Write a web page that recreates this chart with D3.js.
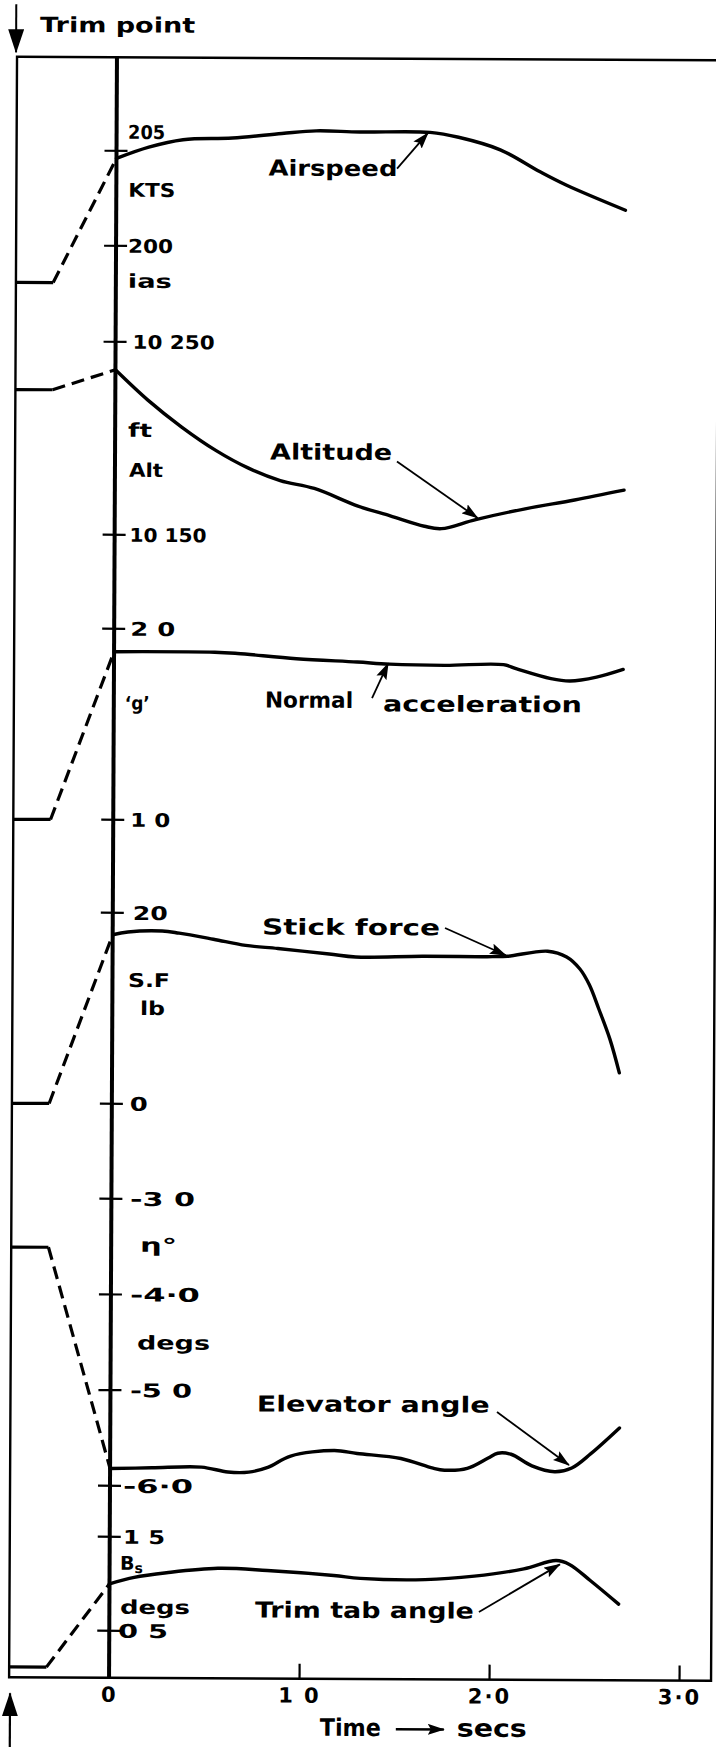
<!DOCTYPE html>
<html>
<head>
<meta charset="utf-8">
<script src="https://cdn.jsdelivr.net/npm/d3@7"></script>
<style>
  body { margin: 0; background: #fff; }
  text { font-family: "DejaVu Sans", sans-serif; fill: #000; font-weight: bold; }
</style>
</head>
<body>
<svg id="chart" width="716" height="1747"></svg>
<script>
// time axis
var secs = [0, 1, 2, 3];
var secsText = ["0", "1 0", "2·0", "3·0"];
var trimTime = -0.526, rampStart = -0.33;

// traces, [secs, value]
var airspeed = [[0,204.6],[0.17,205.2],[0.35,205.6],[0.61,205.7],[0.87,205.95],[1.05,206.1],[1.28,206.05],
  [1.65,206.05],[1.8,205.8],[2.02,205.15],[2.23,204.0],[2.37,203.3],[2.68,202.0]];
var altitude = [[0,10235.5],[0.17,10220],[0.35,10206],[0.53,10194],[0.7,10185],[0.87,10178.5],[1.05,10174.5],
  [1.28,10165.5],[1.45,10160.5],[1.63,10155.2],[1.72,10154],[1.9,10158.8],[2.16,10164.5],[2.42,10169.2],[2.68,10174.4]];
var accel = [[0,1.88],[0.53,1.88],[0.65,1.874],[0.96,1.848],[1.28,1.832],[1.45,1.822],[1.74,1.817],[2.05,1.822],
  [2.12,1.80],[2.3,1.75],[2.4,1.738],[2.54,1.759],[2.68,1.80]];
var stick = [[0,17.7],[0.08,18.0],[0.26,18.12],[0.35,17.9],[0.53,17.28],[0.7,16.65],[0.87,16.34],[1.14,15.8],
  [1.28,15.5],[1.63,15.6],[2.0,15.6],[2.08,15.65],[2.29,16.2],[2.39,15.6],[2.46,14.35],[2.51,12.7],[2.56,10.2],[2.62,7.0],[2.67,3.5]];
var elevator = [[0,-5.82],[0.22,-5.81],[0.48,-5.8],[0.62,-5.85],[0.73,-5.85],[0.83,-5.8],[0.95,-5.68],[1.18,-5.62],
  [1.3,-5.65],[1.53,-5.7],[1.7,-5.8],[1.76,-5.82],[1.88,-5.8],[1.99,-5.69],[2.04,-5.64],[2.11,-5.65],[2.22,-5.77],
  [2.34,-5.83],[2.43,-5.79],[2.53,-5.64],[2.68,-5.37]];
var tab = [[0,1.0],[0.13,1.07],[0.3,1.12],[0.57,1.17],[0.83,1.15],[1.18,1.1],[1.32,1.07],[1.66,1.06],[1.92,1.1],
  [2.18,1.18],[2.35,1.27],[2.42,1.23],[2.53,1.06],[2.68,0.81]];

// steady value before the trim change
var preTrim = {airspeed: 198.05, altitude: 10225, accel: 1.0, stick: 0, elevator: -3.51, tab: 0.11};

var airspeedTicks = [205, 200], altitudeTicks = [10250, 10150], accelTicks = [2, 1],
    stickTicks = [20, 0], elevatorTicks = [-3, -4, -5, -6], tabTicks = [1.5, 0.5];

var airspeedText = [["205",205],["KTS",202.95],["200",200],["ias",198.16]];
var altitudeText = [["10 250",10250],["ft",10204.4],["Alt",10183.7],["10 150",10150]];
var accelText = [["\u2018g\u2019",1.613],["2 0",2],["1 0",1]];
var stickText = [["20",20],["S.F",12.98],["lb",10.05],["0",0]];
var elevatorText = [["-3 0",-3],["\u03b7\u00b0",-3.48],["-4·0",-4],["degs",-4.5],["-5 0",-5],["-6·0",-6]];
var tabText = [["1 5",1.5],["Bs",1.223],["degs",0.755],["0 5",0.5]];

// annotations: text start, arrow from, arrow to  (secs, value)
var notes = [
  {p: "airspeed", text: "Airspeed", at: [0.80,204.13], from: [1.477,204.13], to: [1.639,206.02]},
  {p: "altitude", text: "Altitude", at: [0.816,10193.3], from: [1.484,10188.7], to: [1.91,10159.6]},
  {p: "accel", text: "Normal", at: [0.796,1.631], from: [1.359,1.644], to: [1.443,1.826]},
  {p: "accel", text: "acceleration", at: [1.417,1.613]},
  {p: "stick", text: "Stick force", at: [0.786,18.59], from: [1.749,18.58], to: [2.07,15.75]},
  {p: "elevator", text: "Elevator angle", at: [0.77,-5.137], from: [2.035,-5.21], to: [2.415,-5.76]},
  {p: "tab", text: "Trim tab angle", at: [0.766,0.729], from: [1.945,0.719], to: [2.37,1.23]}
];

// ---- layout ----
var frameTop = 58.5, frameBottom = 1679, frameRight = 715;
var x = d3.scaleLinear().domain([0, 3]).range([113, 683]);
var axisX = x(0), frameLeft = x(trimTime);

var panels = {
  airspeed: {data: airspeed, ticks: airspeedTicks, text: airspeedText, px: [152, 247],
    lay: [[11.5,37,-19],[12,47,0],[12,45,0],[12,44,0]]},
  altitude: {data: altitude, ticks: altitudeTicks, text: altitudeText, px: [343, 536],
    lay: [[17,82,0],[13,24,0],[14,34,0],[15,77,0]]},
  accel: {data: accel, ticks: accelTicks, text: accelText, px: [630, 821],
    lay: [[11,25,0],[16,45,0],[17,40,0]]},
  stick: {data: stick, ticks: stickTicks, text: stickText, px: [914, 1105],
    lay: [[20,35,0],[15.5,42,0],[27.7,25,0],[18,18,0]]},
  elevator: {data: elevator, ticks: elevatorTicks, text: elevatorText, px: [1200, 1487],
    lay: [[18.6,65,0],[28.8,37,0],[19,70,0],[26.3,73,0],[19.5,62,0],[13,70,0]]},
  tab: {data: tab, ticks: tabTicks, text: tabText, px: [1538, 1632],
    lay: [[13.3,42,0],[10.4,0,0],[10.6,70,0],[8.7,50,0]]}
};
var noteWidth = {"Airspeed":129, "Altitude":122, "Normal":88, "acceleration":199,
  "Stick force":178, "Elevator angle":233, "Trim tab angle":219};

var svg = d3.select("#chart");
var defs = svg.append("defs");
defs.append("marker").attr("id", "head")
  .attr("markerUnits", "userSpaceOnUse")
  .attr("markerWidth", 17).attr("markerHeight", 11)
  .attr("refX", 16).attr("refY", 5.5).attr("orient", "auto")
  .append("path").attr("d", "M0,0 L17,5.5 L0,11 L3,5.5 z").attr("fill", "#000");
defs.append("marker").attr("id", "bighead")
  .attr("markerUnits", "userSpaceOnUse")
  .attr("markerWidth", 24).attr("markerHeight", 16)
  .attr("refX", 23).attr("refY", 8).attr("orient", "auto")
  .append("path").attr("d", "M0,0 L24,8 L0,16 z").attr("fill", "#000");

// the record is scanned slightly askew
var g = svg.append("g").attr("transform", "rotate(0.28,363,870)");

// frame
g.append("rect")
  .attr("x", frameLeft).attr("y", frameTop)
  .attr("width", frameRight - frameLeft).attr("height", frameBottom - frameTop)
  .attr("fill", "none").attr("stroke", "#000").attr("stroke-width", 2.4);

// time axis
var xAxis = d3.axisBottom(x).tickValues(secs).tickSize(-15).tickPadding(9)
  .tickFormat(function (d, i) { return secsText[i]; });
var xg = g.append("g").attr("transform", "translate(0," + frameBottom + ")").call(xAxis);
xg.select(".domain").remove();
xg.selectAll(".tick line").attr("stroke", "#000").attr("stroke-width", 2.2);
xg.selectAll(".tick text").attr("font-size", 21).attr("font-family", "DejaVu Sans")
  .attr("font-weight", "bold").attr("letter-spacing", 2).attr("fill", "#000");

// zero line
g.append("line").attr("x1", axisX).attr("x2", axisX).attr("y1", frameTop).attr("y2", frameBottom)
  .attr("stroke", "#000").attr("stroke-width", 4);

Object.keys(panels).forEach(function (k) {
  var p = panels[k];
  var t = p.ticks;
  var y = d3.scaleLinear().domain([t[0], t[t.length - 1]]).range(p.px);
  p.y = y;

  g.selectAll(null).data(t).enter().append("line")
    .attr("x1", axisX - 12).attr("x2", axisX + 11)
    .attr("y1", function (d) { return y(d); }).attr("y2", function (d) { return y(d); })
    .attr("stroke", "#000").attr("stroke-width", 2.2);

  p.text.forEach(function (d, i) {
    var l = p.lay[i];
    var tx = g.append("text")
      .attr("x", axisX + l[0]).attr("y", y(d[1]) + l[2])
      .attr("dominant-baseline", "central")
      .attr("font-size", 19);
    if (d[0] === "Bs") {
      tx.append("tspan").text("B");
      tx.append("tspan").attr("font-size", 14).attr("dy", 5).text("s");
    } else {
      tx.text(d[0]);
    }
    if (l[1]) tx.attr("textLength", l[1]).attr("lengthAdjust", "spacingAndGlyphs");
  });

  var line = d3.line()
    .x(function (d) { return x(d[0]); })
    .y(function (d) { return y(d[1]); });

  g.append("path").datum(p.data)
    .attr("d", line.curve(d3.curveCatmullRom.alpha(0.5)))
    .attr("fill", "none").attr("stroke", "#000").attr("stroke-width", 3.4)
    .attr("stroke-linejoin", "round").attr("stroke-linecap", "round");

  var v0 = preTrim[k];
  g.append("path").datum([[trimTime, v0], [rampStart, v0]])
    .attr("d", line.curve(d3.curveLinear))
    .attr("fill", "none").attr("stroke", "#000").attr("stroke-width", 3.2);
  g.append("path").datum([[rampStart, v0], [0, p.data[0][1]]])
    .attr("d", line.curve(d3.curveLinear))
    .attr("fill", "none").attr("stroke", "#000").attr("stroke-width", 3.2)
    .attr("stroke-dasharray", "13,7");
});

// annotations
notes.forEach(function (n) {
  var y = panels[n.p].y;
  g.append("text")
    .attr("x", x(n.at[0])).attr("y", y(n.at[1]))
    .attr("dominant-baseline", "central")
    .attr("font-size", 22)
    .attr("textLength", noteWidth[n.text]).attr("lengthAdjust", "spacingAndGlyphs")
    .text(n.text);
  if (n.from) {
    g.append("line")
      .attr("x1", x(n.from[0])).attr("y1", y(n.from[1]))
      .attr("x2", x(n.to[0])).attr("y2", y(n.to[1]))
      .attr("stroke", "#000").attr("stroke-width", 1.8)
      .attr("marker-end", "url(#head)");
  }
});

// trim point markers
g.append("line").attr("x1", frameLeft - 1).attr("x2", frameLeft - 1).attr("y1", 6).attr("y2", 54)
  .attr("stroke", "#000").attr("stroke-width", 2).attr("marker-end", "url(#bighead)");
g.append("text").attr("x", 36).attr("y", 26.6).attr("dominant-baseline", "central")
  .attr("font-size", 21).attr("textLength", 155).attr("lengthAdjust", "spacingAndGlyphs")
  .text("Trim point");
g.append("line").attr("x1", frameLeft + 1).attr("x2", frameLeft + 1).attr("y1", 1760).attr("y2", 1695)
  .attr("stroke", "#000").attr("stroke-width", 2.2).attr("marker-end", "url(#bighead)");

// time caption
g.append("text").attr("x", 324).attr("y", 1728).attr("dominant-baseline", "central")
  .attr("font-size", 24).attr("textLength", 61).attr("lengthAdjust", "spacingAndGlyphs")
  .text("Time");
g.append("line").attr("x1", 400).attr("x2", 448).attr("y1", 1729).attr("y2", 1729)
  .attr("stroke", "#000").attr("stroke-width", 2.5).attr("marker-end", "url(#head)");
g.append("text").attr("x", 461).attr("y", 1728).attr("dominant-baseline", "central")
  .attr("font-size", 24).attr("textLength", 70).attr("lengthAdjust", "spacingAndGlyphs")
  .text("secs");
</script>
</body>
</html>
